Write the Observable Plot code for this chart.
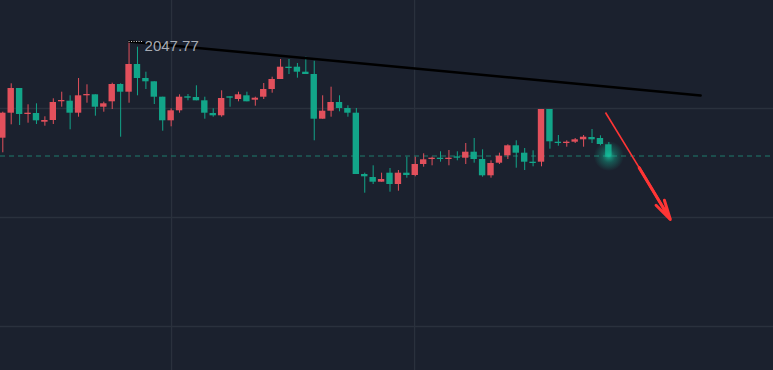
<!DOCTYPE html>
<html>
<head>
<meta charset="utf-8">
<script src="https://cdn.jsdelivr.net/npm/d3@7"></script>
<script src="https://cdn.jsdelivr.net/npm/@observablehq/plot@0.6"></script>
<style>
  html, body { margin: 0; padding: 0; background: #1b212e; overflow: hidden; }
  #chart svg { display: block; }
</style>
</head>
<body>
<div id="chart"></div>
<script>
// ---- data ----
const open  = [2038.10,2040.60,2043.07,2040.47,2040.57,2039.70,2039.87,2041.74,2041.80,2040.60,
               2042.34,2042.44,2041.20,2041.74,2043.47,2042.70,2045.47,2044.07,2043.74,2042.20,
               2039.84,2040.84,2042.24,2042.17,2041.84,2040.57,2040.34,2042.24,2041.97,2042.34,
               2041.90,2042.20,2042.97,2043.97,2045.20,2045.20,2044.70,2044.47,2040.00,2040.80,
               2041.67,2041.07,2040.60,2034.47,2034.17,2033.70,2034.60,2033.47,2034.60,2034.37,
               2035.47,2035.97,2036.10,2035.97,2036.20,2036.10,2036.70,2035.97,2034.34,2035.60,
               2036.34,2037.34,2036.60,2035.70,2035.70,2040.97,2037.70,2037.57,2037.70,2037.94,
               2038.17,2038.07,2037.44];
const high  = [2040.70,2043.54,2043.07,2041.44,2041.54,2040.24,2042.04,2042.70,2042.34,2044.07,
               2043.44,2042.44,2041.70,2043.60,2043.54,2047.77,2047.20,2044.70,2043.74,2042.20,
               2041.04,2042.44,2042.47,2043.34,2042.20,2041.04,2042.84,2042.24,2042.70,2042.70,
               2042.20,2043.57,2044.20,2045.97,2045.97,2045.57,2046.20,2045.80,2042.34,2043.20,
               2042.34,2041.34,2041.07,2034.60,2035.34,2034.60,2035.07,2034.87,2036.20,2036.20,
               2036.54,2036.20,2036.74,2036.87,2036.74,2037.57,2038.07,2036.94,2035.84,2036.60,
               2037.44,2037.84,2037.07,2036.84,2040.97,2040.97,2038.37,2037.84,2038.07,2038.37,
               2038.97,2038.34,2037.67];
const low   = [2036.64,2039.44,2039.37,2039.60,2039.47,2039.30,2039.47,2041.20,2038.94,2040.20,
               2041.60,2040.30,2040.70,2040.97,2038.20,2041.60,2042.34,2042.97,2041.47,2038.80,
               2039.24,2040.60,2041.84,2041.84,2040.00,2040.20,2040.20,2041.20,2041.74,2041.74,
               2041.30,2041.97,2042.60,2043.97,2044.47,2044.10,2044.47,2037.84,2040.00,2040.20,
               2040.74,2040.20,2034.47,2032.60,2033.47,2033.70,2032.70,2032.80,2034.10,2034.24,
               2035.20,2035.34,2035.70,2035.34,2035.84,2035.47,2035.60,2034.20,2034.10,2035.47,
               2035.97,2035.10,2034.87,2035.24,2035.24,2037.00,2037.30,2037.20,2037.57,2037.20,
               2037.57,2037.34,2036.20];
const close = [2040.60,2043.07,2040.47,2040.57,2039.84,2039.87,2041.67,2041.87,2040.60,2042.34,
               2042.47,2041.20,2041.54,2043.47,2042.70,2045.47,2044.07,2043.74,2042.20,2039.84,
               2040.84,2042.20,2042.10,2041.84,2040.60,2040.34,2042.07,2042.10,2042.44,2041.74,
               2042.10,2042.97,2043.97,2045.20,2045.07,2044.70,2044.47,2040.00,2040.80,2041.67,
               2041.07,2040.60,2034.47,2034.24,2033.70,2033.97,2033.47,2034.60,2034.37,2035.47,
               2035.94,2036.10,2035.97,2036.10,2036.10,2036.70,2035.97,2034.34,2035.57,2036.30,
               2037.34,2036.60,2035.70,2035.57,2040.97,2037.74,2037.57,2037.70,2037.94,2038.20,
               2037.94,2037.47,2036.20];

const highLabel = "2047.77";
const lastPrice = 2036.32;
const gridY = [2041.07, 2030.17, 2019.27];
const gridX = [20.05, 48.92];
const trendLine = [{i: 15, p: 2047.77}, {i: 82.9, p: 2042.37}];
// hand-drawn arrow: thin start, thicker shaft near the head
const arrowStart = {x: 71.6, y: 2040.67};
const arrowMid   = {x: 75.6, y: 2035.15};
const arrowEnd   = {x: 79.3, y: 2029.97};

// ---- build table ----
const candles = open.map((o, k) => ({
  i: k, open: o, high: high[k], low: low[k], close: close[k], up: close[k] >= o
}));

const RED = "#e2505c", GREEN = "#12a589", GRID = "#2a313d", ARROW = "#ff3535";

const chart = Plot.plot({
  width: 773,
  height: 370,
  margin: 0,
  style: {background: "#1b212e", overflow: "visible"},
  x: {domain: [-0.273, 91.56], axis: null},
  y: {domain: [2014.87, 2051.87], axis: null},
  marks: [
    Plot.ruleY(gridY, {stroke: GRID, strokeWidth: 1.3}),
    Plot.ruleX(gridX, {stroke: GRID, strokeWidth: 1.3}),
    Plot.ruleY([lastPrice], {stroke: "#1e7d6c", strokeWidth: 1, strokeDasharray: "5,4"}),
    Plot.ruleX(candles, {x: "i", y1: "low", y2: "high", stroke: d => d.up ? RED : GREEN, strokeWidth: 1}),
    Plot.rect(candles, {
      x1: d => d.i - 0.38, x2: d => d.i + 0.38,
      y1: d => Math.min(d.open, d.close),
      y2: d => Math.max(Math.max(d.open, d.close), Math.min(d.open, d.close) + 0.13),
      fill: d => d.up ? RED : GREEN
    }),
    Plot.dot([{i: 72, p: lastPrice}], {x: "i", y: "p", r: 15, fill: "url(#glowGrad)", stroke: "none"}),
    Plot.line(trendLine, {x: "i", y: "p", stroke: "#000", strokeWidth: 2.6}),
    Plot.ruleY([2047.77], {x1: 15, x2: 16.7, stroke: "#d8d8d8", strokeWidth: 1, strokeDasharray: "1,1.5"}),
    Plot.text([{i: 15, p: 2047.77}], {x: "i", y: "p", text: () => highLabel, dx: 15.5, dy: 5,
      textAnchor: "start", fill: "#a7abb3", fontSize: 15, fontFamily: "Liberation Sans, Arial, sans-serif"}),
    Plot.link([{a: arrowStart, b: arrowMid}], {x1: d => d.a.x, y1: d => d.a.y, x2: d => d.b.x, y2: d => d.b.y,
      stroke: ARROW, strokeWidth: 1.6}),
    Plot.link([{a: arrowMid, b: arrowEnd}], {x1: d => d.a.x, y1: d => d.a.y, x2: d => d.b.x, y2: d => d.b.y,
      stroke: ARROW, strokeWidth: 2.6}),
    Plot.arrow([{a: arrowMid, b: arrowEnd}], {x1: d => d.a.x, y1: d => d.a.y, x2: d => d.b.x, y2: d => d.b.y,
      stroke: ARROW, strokeWidth: 3, headLength: 12, headAngle: 28, strokeLinejoin: "miter"})
  ]
});

// radial glow definition
const ns = "http://www.w3.org/2000/svg";
const defs = document.createElementNS(ns, "defs");
defs.innerHTML = `<radialGradient id="glowGrad">
  <stop offset="0%" stop-color="#19c39f" stop-opacity="0.85"/>
  <stop offset="45%" stop-color="#12a589" stop-opacity="0.4"/>
  <stop offset="100%" stop-color="#12a589" stop-opacity="0"/>
</radialGradient>`;
chart.insertBefore(defs, chart.firstChild);
document.getElementById("chart").appendChild(chart);
</script>
</body>
</html>
